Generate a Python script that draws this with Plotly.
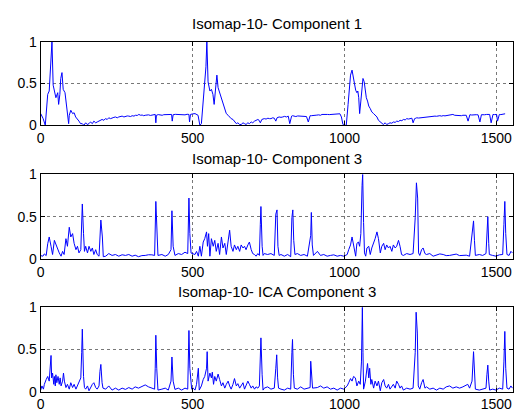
import plotly.graph_objects as go

titles = ["Isomap-10- Component 1", "Isomap-10- Component 3", "Isomap-10- ICA Component 3"]
x_ticks = [0, 500, 1000, 1500]
x_tick_labels = ["0", "500", "1000", "1500"]
y_ticks = [0, 0.5, 1]
y_tick_labels = ["0", "0.5", "1"]

# Component 1
x1 = [0, 8, 15, 23, 28, 34, 37, 41, 46, 50, 56, 59, 63, 66, 70, 74, 80, 83, 87, 92, 94, 99, 105, 110, 115,
      120, 126, 131, 137, 142, 148, 153, 159, 164, 170, 175, 181, 186, 192, 197, 202, 208, 213, 219, 224, 230,
      235, 241, 246, 252, 257, 263, 268, 274, 279, 285, 290, 296, 301, 307, 312, 318, 323, 329, 334, 339, 344,
      350, 355, 361, 366, 372, 377, 379, 381, 387, 393, 400, 405, 410, 415, 420, 425, 431, 433, 436, 443, 450,
      457, 464, 470, 475, 482, 488, 490, 493, 500,
      508, 518, 524, 529, 535, 540, 544, 547, 551, 557, 562, 567, 571, 575, 580, 584, 589, 595, 600, 606, 611,
      617, 622, 627, 633, 638, 644, 649, 655, 660, 666, 671, 676, 682, 687, 693, 698, 704, 709, 715, 719, 723,
      728, 736, 742, 748, 753, 758, 764, 769, 774, 778, 785, 791, 797, 803, 809, 815, 820, 826, 829, 834, 840,
      846, 852, 858, 863, 869, 875, 881, 887, 891, 897, 903, 909, 915, 921, 926, 932, 938, 944, 950, 956, 961,
      967, 973, 979, 985, 990, 995, 1000, 1006, 1012, 1017,
      1020, 1025, 1030, 1035, 1037, 1041, 1044, 1047, 1050, 1054, 1058, 1061, 1065, 1069, 1072, 1076, 1080,
      1085, 1090, 1096, 1101, 1107, 1112, 1118, 1123, 1128, 1134, 1139, 1145, 1150, 1156, 1161, 1167, 1172,
      1178, 1183, 1189, 1194, 1200, 1205, 1211, 1216, 1222, 1226, 1231, 1235, 1238, 1244, 1250, 1255, 1259,
      1265, 1270, 1276, 1281, 1287, 1292, 1298, 1303, 1309, 1314, 1320, 1325, 1331, 1336, 1341, 1346, 1352,
      1357, 1363, 1368, 1374, 1379, 1385, 1390, 1396, 1401, 1407, 1413, 1419, 1425, 1428, 1434, 1440, 1446,
      1451, 1455, 1461, 1468, 1472, 1478, 1483, 1489, 1494, 1499, 1501, 1504, 1510, 1515, 1521, 1526, 1529,
      1535, 1541, 1547, 1553]
y1 = [0.14, 0.08, 0.0, 0.37, 0.41, 0.75, 1.0, 0.48, 0.39, 0.33, 0.39, 0.25, 0.37, 0.56, 0.63, 0.43, 0.39,
      0.29, 0.21, 0.02, 0.12, 0.18, 0.14, 0.15, 0.10, 0.08, 0.05, 0.02, 0.02, 0.0, 0.03, 0.01, 0.02, 0.04,
      0.02, 0.05, 0.03, 0.04, 0.05, 0.06, 0.07, 0.06, 0.08, 0.07, 0.09, 0.08, 0.09, 0.095, 0.10, 0.09, 0.10,
      0.105, 0.11, 0.10, 0.107, 0.112, 0.11, 0.105, 0.115, 0.11, 0.12, 0.118, 0.13, 0.12, 0.123, 0.115, 0.12,
      0.127, 0.125, 0.118, 0.12, 0.126, 0.13, 0.03, 0.12, 0.128, 0.125, 0.12, 0.127, 0.127, 0.122, 0.13, 0.126,
      0.13, 0.05, 0.127, 0.131, 0.13, 0.125, 0.13, 0.127, 0.125, 0.132, 0.13, 0.04, 0.13, 0.136,
      0.14, 0.12, 0.0, 0.02, 0.29, 0.48, 0.7, 1.0, 0.52, 0.41, 0.43, 0.37, 0.25, 0.41, 0.6, 0.45, 0.39, 0.31,
      0.27, 0.2, 0.14, 0.12, 0.10, 0.08, 0.07, 0.05, 0.02, 0.03, 0.01, 0.01, 0.03, 0.02, 0.01, 0.03, 0.02,
      0.04, 0.03, 0.05, 0.06, 0.07, 0.06, 0.03, 0.07, 0.08, 0.075, 0.085, 0.08, 0.08, 0.09, 0.085, 0.05, 0.09,
      0.10, 0.095, 0.10, 0.107, 0.10, 0.11, 0.02, 0.11, 0.115, 0.11, 0.105, 0.112, 0.11, 0.108, 0.115, 0.11,
      0.105, 0.04, 0.115, 0.115, 0.12, 0.118, 0.122, 0.125, 0.12, 0.13, 0.127, 0.125, 0.13, 0.128, 0.13, 0.126,
      0.132, 0.13, 0.134, 0.138, 0.10, 0.01, 0.0, 0.0,
      0.25, 0.48, 0.6, 0.66, 0.55, 0.46, 0.42, 0.39, 0.41, 0.33, 0.14, 0.29, 0.48, 0.56, 0.52, 0.37, 0.33,
      0.29, 0.23, 0.2, 0.16, 0.14, 0.12, 0.10, 0.06, 0.04, 0.02, 0.01, 0.03, 0.01, 0.02, 0.03, 0.025, 0.04,
      0.035, 0.05, 0.045, 0.06, 0.055, 0.07, 0.065, 0.08, 0.075, 0.08, 0.085, 0.03, 0.08, 0.085, 0.09, 0.087,
      0.09, 0.095, 0.092, 0.10, 0.10, 0.098, 0.105, 0.103, 0.107, 0.11, 0.108, 0.112, 0.115, 0.11, 0.116,
      0.113, 0.115, 0.12, 0.118, 0.125, 0.13, 0.12, 0.118, 0.12, 0.116, 0.115, 0.12, 0.118, 0.12, 0.05, 0.127,
      0.123, 0.127, 0.125, 0.127, 0.125, 0.04, 0.127, 0.13, 0.126, 0.13, 0.128, 0.13, 0.03, 0.13, 0.128,
      0.132, 0.13, 0.05, 0.13, 0.128, 0.133, 0.135, 0.138]

# Component 3
x2 = [0, 7, 12, 18, 23, 28, 34, 39, 45, 50, 56, 61, 67, 72, 77, 83, 88, 94, 99, 105, 110, 116, 121, 126,
      132, 135, 137, 141, 144, 148, 154, 159, 165, 170, 175, 181, 186, 192, 195, 198, 203, 206, 214, 224, 235,
      246, 257, 268, 279, 290, 301, 311, 322, 333, 344, 355, 366, 375, 379, 382, 386, 399, 410, 420, 429, 432,
      436, 442, 453, 464, 475, 484, 488, 491, 495,
      508, 513, 519, 524, 529, 535, 540, 546, 549, 553, 557, 562, 568, 573, 578, 584, 589, 595, 600, 606, 611,
      617, 622, 627, 633, 638, 644, 649, 655, 660, 666, 671, 676, 682, 687, 693, 698, 704, 709, 715, 720, 723,
      725, 729, 732, 736, 747, 758, 769, 774, 778, 781, 785, 791, 802, 813, 823, 827, 830, 833, 837, 845, 856,
      867, 878, 889, 891, 894, 898, 911, 921, 932, 943, 954, 965, 976, 987, 998, 1009, 1014, 1020, 1025,
      1028, 1033, 1037, 1041, 1046, 1050, 1054, 1058, 1060, 1063, 1066, 1070, 1074, 1080, 1085, 1090, 1096,
      1101, 1107, 1112, 1118, 1123, 1129, 1134, 1139, 1145, 1150, 1156, 1161, 1167, 1172, 1178, 1183, 1188,
      1194, 1205, 1216, 1226, 1233, 1237, 1241, 1244, 1248, 1254, 1259, 1265, 1270, 1281, 1292, 1303, 1314,
      1325, 1335, 1346, 1357, 1368, 1379, 1390, 1401, 1412, 1420, 1425, 1428, 1431, 1444, 1455, 1466, 1469,
      1472, 1475, 1477, 1488, 1499, 1510, 1521, 1525, 1528, 1531, 1535, 1542, 1548, 1553]
y2 = [0.04, 0.033, 0.06, 0.04, 0.18, 0.26, 0.15, 0.053, 0.22, 0.166, 0.11, 0.072, 0.033, 0.09, 0.053, 0.24,
      0.15, 0.375, 0.26, 0.30, 0.185, 0.11, 0.15, 0.072, 0.11, 0.49, 0.65, 0.30, 0.09, 0.15, 0.072, 0.15,
      0.09, 0.13, 0.053, 0.11, 0.053, 0.033, 0.30, 0.46, 0.26, 0.027, 0.033, 0.064, 0.042, 0.053, 0.033, 0.05,
      0.042, 0.053, 0.033, 0.045, 0.027, 0.04, 0.042, 0.05, 0.049, 0.042, 0.68, 0.26, 0.042, 0.053, 0.033,
      0.053, 0.11, 0.57, 0.15, 0.042, 0.064, 0.053, 0.08, 0.064, 0.72, 0.3, 0.07,
      0.053, 0.09, 0.033, 0.15, 0.033, 0.20, 0.24, 0.32, 0.15, 0.30, 0.033, 0.24, 0.15, 0.22, 0.09, 0.185,
      0.053, 0.26, 0.13, 0.185, 0.053, 0.24, 0.34, 0.15, 0.09, 0.166, 0.11, 0.15, 0.09, 0.166, 0.13, 0.15,
      0.11, 0.166, 0.20, 0.11, 0.064, 0.053, 0.033, 0.064, 0.042, 0.41, 0.62, 0.15, 0.042, 0.064, 0.053,
      0.064, 0.042, 0.53, 0.58, 0.15, 0.042, 0.053, 0.033, 0.053, 0.027, 0.49, 0.58, 0.22, 0.053, 0.064,
      0.042, 0.053, 0.033, 0.28, 0.55, 0.166, 0.042, 0.09, 0.042, 0.053, 0.033, 0.042, 0.049, 0.033, 0.042,
      0.033, 0.053, 0.11, 0.166, 0.26,
      0.20, 0.11, 0.033, 0.185, 0.20, 0.15, 0.30, 0.87, 1.0, 0.43, 0.072, 0.033, 0.13, 0.15, 0.053, 0.13,
      0.185, 0.24, 0.32, 0.24, 0.072, 0.15, 0.185, 0.11, 0.166, 0.13, 0.15, 0.09, 0.166, 0.13, 0.15, 0.22,
      0.15, 0.053, 0.042, 0.064, 0.053, 0.064, 0.49, 0.9, 0.72, 0.072, 0.042, 0.11, 0.13, 0.064, 0.053, 0.064,
      0.033, 0.042, 0.06, 0.053, 0.04, 0.042, 0.05, 0.058, 0.04, 0.042, 0.045, 0.033, 0.26, 0.45, 0.22, 0.042,
      0.053, 0.042, 0.064, 0.39, 0.5, 0.185, 0.053, 0.042, 0.033, 0.049, 0.053, 0.41, 0.68, 0.30, 0.053,
      0.042, 0.09, 0.072]

# ICA Component 3
x3 = [0, 4, 9, 12, 18, 23, 28, 32, 34, 36, 39, 43, 45, 48, 50, 53, 57, 61, 64, 67, 72, 75, 78, 83, 88, 94,
      99, 105, 110, 116, 121, 126, 132, 135, 137, 141, 144, 148, 154, 159, 165, 170, 175, 181, 186, 192, 195,
      198, 202, 205, 214, 224, 235, 246, 257, 268, 279, 290, 301, 311, 322, 333, 344, 355, 366, 375, 377, 379,
      382, 386, 399, 410, 420, 429, 432, 436, 442, 453, 464, 475, 484, 488, 491,
      497, 502, 508, 513, 519, 522, 529, 535, 540, 546, 548, 551, 557, 562, 565, 569, 573, 578, 584, 589, 595,
      600, 606, 611, 617, 622, 627, 633, 638, 644, 649, 655, 660, 666, 671, 676, 682, 687, 693, 698, 704, 709,
      715, 720, 723, 725, 729, 732, 736, 747, 758, 769, 774, 777, 780, 783, 791, 802, 813, 823, 827, 829, 832,
      835, 845, 856, 867, 878, 887, 889, 892, 895, 911, 921, 932, 943, 954, 965, 976, 987, 998, 1009, 1014,
      1020, 1025, 1030,
      1036, 1041, 1047, 1052, 1056, 1059, 1061, 1063, 1069, 1072, 1076, 1080, 1083, 1087, 1090, 1096, 1101,
      1107, 1112, 1118, 1123, 1129, 1134, 1139, 1145, 1150, 1156, 1161, 1167, 1172, 1178, 1183, 1188, 1194,
      1205, 1216, 1226, 1233, 1236, 1240, 1243, 1248, 1254, 1259, 1265, 1270, 1281, 1292, 1303, 1314, 1325,
      1335, 1346, 1357, 1368, 1379, 1390, 1406, 1412, 1420, 1425, 1428, 1431, 1444, 1455, 1466, 1469, 1472,
      1475, 1478, 1488, 1499, 1510, 1521, 1525, 1528, 1531, 1535, 1542, 1548, 1553]
y3 = [0.02, 0.068, 0.03, 0.087, 0.144, 0.18, 0.125, 0.277, 0.428, 0.163, 0.22, 0.087, 0.18, 0.068, 0.20,
      0.106, 0.18, 0.087, 0.163, 0.068, 0.125, 0.22, 0.125, 0.049, 0.087, 0.03, 0.106, 0.049, 0.087, 0.03,
      0.068, 0.106, 0.163, 0.466, 0.739, 0.18, 0.049, 0.03, 0.068, 0.011, 0.057, 0.087, 0.106, 0.049, 0.03,
      0.068, 0.24, 0.322, 0.106, 0.042, 0.03, 0.068, 0.019, 0.042, 0.019, 0.042, 0.027, 0.049, 0.03, 0.057,
      0.042, 0.057, 0.08, 0.057, 0.042, 0.03, 0.277, 0.667, 0.277, 0.019, 0.03, 0.042, 0.019, 0.125, 0.41,
      0.125, 0.027, 0.042, 0.019, 0.042, 0.03, 0.723, 0.277,
      0.03, 0.042, 0.019, 0.087, 0.277, 0.019, 0.068, 0.144, 0.18, 0.277, 0.473, 0.125, 0.22, 0.163, 0.231,
      0.087, 0.18, 0.125, 0.208, 0.144, 0.068, 0.106, 0.042, 0.087, 0.125, 0.068, 0.03, 0.087, 0.155, 0.068,
      0.095, 0.042, 0.068, 0.106, 0.03, 0.068, 0.125, 0.087, 0.042, 0.068, 0.03, 0.057, 0.042, 0.068, 0.466,
      0.636, 0.20, 0.019, 0.042, 0.057, 0.03, 0.042, 0.277, 0.436, 0.163, 0.042, 0.03, 0.019, 0.042, 0.03,
      0.466, 0.617, 0.20, 0.042, 0.03, 0.057, 0.03, 0.042, 0.049, 0.36, 0.163, 0.042, 0.049, 0.068, 0.042,
      0.057, 0.03, 0.042, 0.019, 0.042, 0.03, 0.068, 0.106, 0.155, 0.125, 0.18,
      0.163, 0.068, 0.125, 0.087, 0.352, 0.996, 0.466, 0.03, 0.125, 0.22, 0.333, 0.163, 0.277, 0.087, 0.144,
      0.042, 0.125, 0.068, 0.125, 0.011, 0.106, 0.144, 0.068, 0.042, 0.087, 0.03, 0.068, 0.087, 0.042, 0.125,
      0.087, 0.042, 0.068, 0.019, 0.042, 0.03, 0.042, 0.466, 0.939, 0.693, 0.068, 0.03, 0.106, 0.144, 0.042,
      0.057, 0.03, 0.042, 0.019, 0.042, 0.03, 0.057, 0.068, 0.042, 0.057, 0.042, 0.057, 0.087, 0.042, 0.125,
      0.473, 0.20, 0.03, 0.019, 0.027, 0.042, 0.20, 0.314, 0.125, 0.019, 0.03, 0.019, 0.042, 0.03, 0.352,
      0.712, 0.277, 0.042, 0.03, 0.068, 0.042]

series = [(x1, y1), (x2, y2), (x3, y3)]

W, H = 516, 417
left_px, right_px = 37, 513
boxes = [(35, 122), (173, 261), (311, 399)]  # top, bottom in pixels
title_centers = [16, 156, 295]

fig = go.Figure()
font = dict(family="Liberation Sans, Arial, sans-serif", size=14, color="black")

for i, ((xs, ys), (top, bot)) in enumerate(zip(series, boxes)):
    n = "" if i == 0 else str(i + 1)
    fig.add_trace(go.Scatter(x=xs, y=ys, mode="lines", line=dict(color="rgb(0,0,255)", width=1),
                             xaxis="x" + n, yaxis="y" + n, showlegend=False, hoverinfo="skip"))
    common = dict(showline=True, linecolor="black", linewidth=1, mirror="ticks", ticks="inside",
                  ticklen=4, tickcolor="black", showgrid=True, gridcolor="rgb(120,120,120)", griddash="dot",
                  gridwidth=1, zeroline=False, tickfont=font)
    fig.layout["xaxis" + n] = dict(domain=[left_px / W, right_px / W], range=[0, 1555],
                                   tickvals=x_ticks, ticktext=x_tick_labels, anchor="y" + n, **common)
    fig.layout["yaxis" + n] = dict(domain=[1 - bot / H, 1 - top / H], range=[0, 1],
                                   tickvals=y_ticks, ticktext=y_tick_labels, anchor="x" + n, **common)
    fig.add_annotation(text=titles[i], xref="paper", yref="paper", x=(left_px + right_px) / 2 / W,
                       y=1 - title_centers[i] / H, xanchor="center", yanchor="middle", showarrow=False,
                       font=dict(family="Liberation Sans, Arial, sans-serif", size=15, color="black"))

fig.update_layout(width=W, height=H, margin=dict(l=0, r=0, t=0, b=0), paper_bgcolor="white",
                  plot_bgcolor="white")
fig.write_html("out.html", config={"displayModeBar": False},
               post_script="document.body.style.margin='0';document.body.style.overflow='hidden';")
